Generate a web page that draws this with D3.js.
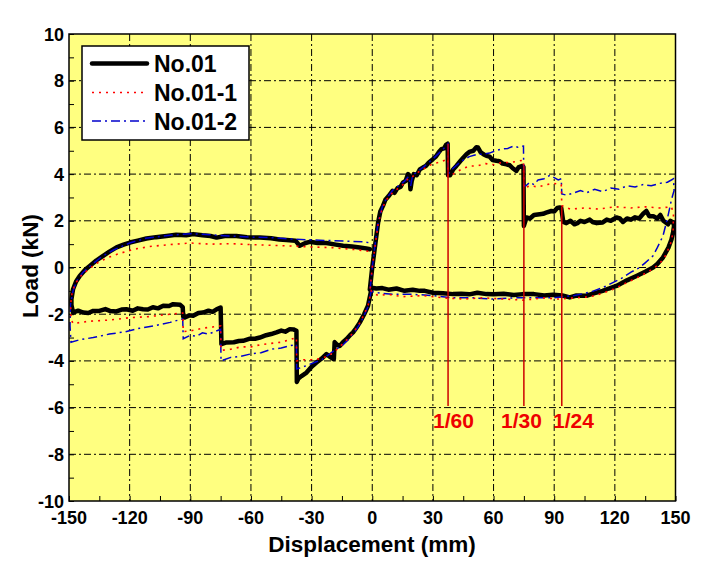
<!DOCTYPE html>
<html><head><meta charset="utf-8">
<script src="https://cdn.jsdelivr.net/npm/d3@7"></script>
<style>
html,body{margin:0;padding:0;background:#fff;}
svg text{font-family:"Liberation Sans",Arial,sans-serif;font-weight:bold;}
</style></head>
<body><svg id="c" width="701" height="561"></svg>
<script>
// ---- data ----
const seriesNames = ["No.01", "No.01-1", "No.01-2"];
const xTicks = [-150,-120,-90,-60,-30,0,30,60,90,120,150];
const yTicks = [-10,-8,-6,-4,-2,0,2,4,6,8,10];
const driftPos = [37.5, 75, 93.75];
const driftLabels = ["1/60", "1/30", "1/24"];
const driftTop = [5.3, 4.35, 2.6];

const no01 = [[-1.2,-0.95],[0,0],[1.5,1.0],[2.9,1.93],[4,2.4],[5.3,2.64],[6.5,2.9],[8,3.05],[10,3.28],[11,3.2],[12.5,3.4],[14,3.45],[15.2,3.64],[16.5,3.7],[17.7,4.0],[18.5,3.9],[18.9,3.35],[19.5,3.7],[20.5,4.0],[22,3.95],[23.5,4.2],[25,4.28],[26.5,4.35],[28,4.5],[30,4.64],[31.5,4.75],[33,4.95],[34.2,5.07],[35.5,5.1],[36.5,5.25],[37.3,5.3],[37.5,3.95],[38.5,3.95],[40,4.2],[41.6,4.35],[43.5,4.55],[45,4.7],[46.6,4.85],[48,4.95],[50,5.0],[51.5,5.15],[52.3,5.14],[53.5,4.95],[55,4.85],[56.5,4.78],[58,4.75],[59.5,4.6],[61.4,4.57],[63,4.55],[64.5,4.45],[66.4,4.42],[68,4.38],[69.5,4.25],[71.3,4.14],[72.5,4.3],[74.3,4.35],[74.8,4.3],[75,1.78],[76.3,2.14],[78,2.1],[80,2.25],[82.8,2.28],[84.5,2.3],[86,2.35],[88.6,2.42],[90,2.4],[91.5,2.55],[92.7,2.57],[93.5,2.55],[93.75,2.4],[94.5,1.95],[96,1.9],[98,2.0],[100,1.85],[101.5,1.9],[103,2.0],[105,1.95],[107.6,2.05],[109,1.95],[111,1.9],[114,1.93],[116,2.05],[118,2.0],[120.8,2.14],[122.5,2.1],[124,1.95],[126,2.1],[128,2.05],[130,2.15],[132,2.1],[134,2.3],[135.6,2.42],[137,2.2],[139,2.2],[141,2.1],[142.5,2.25],[144,2.0],[146.3,1.85],[147.5,2.0],[148.8,1.93],
  [149.3,1.8],[148.8,1.5],[148,1.2],[146.5,0.85],[143.8,0.43],[141,0.15],[138.9,0],[135,-0.18],[130.7,-0.36],[126,-0.55],[120.8,-0.79],[117,-0.9],[114,-1.0],[110,-1.1],[105.9,-1.21],[101,-1.2],[97.7,-1.28],[94,-1.2],[89.4,-1.17],[85,-1.2],[80,-1.14],[74.5,-1.14],[70,-1.18],[65,-1.12],[60,-1.15],[56.5,-1.14],[52,-1.08],[48,-1.15],[44,-1.12],[40,-1.14],[35,-1.1],[30,-1.08],[26,-1.0],[23.5,-1.0],[20,-0.95],[16,-1.0],[12,-0.9],[8,-0.95],[5,-0.88],[2,-0.9],[0.5,-0.88],
  [-0.4,-0.93],[-2.1,-1.64],[-4,-2.0],[-6.2,-2.36],[-8,-2.6],[-9.5,-2.78],[-11,-2.9],[-12.8,-3.07],[-14.5,-3.2],[-16.1,-3.36],[-17.5,-3.3],[-18.6,-3.2],[-19,-3.93],[-20.5,-3.85],[-22.7,-3.71],[-25,-3.9],[-27.6,-4.07],[-30,-4.25],[-32.5,-4.5],[-35,-4.65],[-36.5,-4.75],[-37.3,-4.9],[-37.5,-2.71],[-39,-2.65],[-40.8,-2.64],[-43,-2.75],[-45,-2.7],[-47.4,-2.78],[-50,-2.85],[-52.5,-2.9],[-55.6,-3.0],[-58,-3.05],[-60.5,-3.05],[-63.9,-3.14],[-66,-3.15],[-68.5,-3.2],[-72.1,-3.21],[-74.6,-3.28],[-75,-1.71],[-77,-1.79],[-79,-1.9],[-81,-1.85],[-83.7,-1.93],[-86,-1.95],[-88.6,-2.07],[-90.5,-2.05],[-92.7,-2.14],[-93.5,-2.1],[-93.75,-1.7],[-95,-1.6],[-98.5,-1.57],[-100.5,-1.65],[-103.4,-1.64],[-106,-1.75],[-108.5,-1.7],[-111,-1.8],[-113.4,-1.79],[-116,-1.75],[-118.5,-1.85],[-121.6,-1.79],[-124,-1.8],[-126.5,-1.88],[-129.8,-1.86],[-132,-1.78],[-135,-1.86],[-138,-1.86],[-140.5,-1.95],[-143,-1.93],[-145.5,-1.85],[-148,-1.93],
  [-148.8,-1.6],[-148.8,-1.36],[-148,-0.93],[-146.5,-0.6],[-144.7,-0.36],[-142,-0.1],[-139.7,0.07],[-136.5,0.3],[-133.1,0.5],[-130,0.68],[-126.5,0.86],[-123,0.98],[-119.9,1.07],[-116,1.15],[-111.7,1.24],[-107,1.3],[-101.8,1.35],[-97,1.4],[-92,1.38],[-88.6,1.43],[-84,1.38],[-80,1.35],[-77,1.28],[-73,1.35],[-67.2,1.35],[-62,1.3],[-55.6,1.28],[-50,1.25],[-46,1.2],[-42.4,1.18],[-38,1.15],[-35.9,0.93],[-33,1.05],[-30.9,1.1],[-27,1.05],[-22.7,1.05],[-18,0.98],[-14.4,0.93],[-10,0.9],[-6.2,0.86],[-3,0.82],[-1.2,0.78]];

const no01_1 = [[-1,-0.9],[0,0],[1.5,1.0],[3,1.9],[5,2.55],[7,2.9],[10,3.2],[13,3.4],[16,3.6],[18,3.85],[20,3.9],[23,4.1],[26,4.25],[30,4.45],[33,4.5],[36,4.6],[37.4,4.65],[37.5,3.9],[40,4.0],[44,4.2],[48,4.35],[52,4.35],[56,4.45],[60,4.4],[64,4.5],[68,4.5],[72,4.55],[74.8,4.6],[75,3.4],[78,3.5],[82,3.45],[86,3.55],[90,3.6],[93.5,3.55],[93.75,2.65],[98,2.5],[105,2.55],[112,2.5],[120,2.6],[128,2.55],[135,2.6],[142,2.55],[148,2.6],
  [149,2.3],[148.8,1.5],[147.5,1.0],[145,0.5],[142,0.15],[138,-0.1],[133,-0.35],[127,-0.6],[120,-0.9],[114,-1.1],[108,-1.25],[100,-1.3],[92,-1.35],[85,-1.3],[75,-1.4],[65,-1.35],[55,-1.3],[45,-1.35],[35,-1.3],[25,-1.2],[15,-1.25],[8,-1.15],[3,-1.2],[0.5,-1.1],
  [-0.5,-1.0],[-2,-1.6],[-4,-2.0],[-6,-2.35],[-9,-2.75],[-12,-3.05],[-15,-3.3],[-18,-3.55],[-21,-3.75],[-25,-3.9],[-30,-3.95],[-34,-3.95],[-37.4,-4.0],[-37.5,-3.0],[-41,-3.1],[-45,-3.2],[-50,-3.25],[-55,-3.3],[-60,-3.4],[-65,-3.4],[-70,-3.5],[-74.8,-3.55],[-75,-2.5],[-79,-2.55],[-84,-2.6],[-89,-2.7],[-93.5,-2.75],[-93.75,-1.95],[-100,-2.0],[-110,-2.1],[-120,-2.15],[-130,-2.25],[-140,-2.3],[-148,-2.4],
  [-149,-2.2],[-149.2,-1.6],[-148.5,-1.1],[-147,-0.7],[-144,-0.35],[-140,-0.05],[-135,0.25],[-130,0.45],[-125,0.6],[-118,0.78],[-110,0.9],[-100,0.98],[-90,1.05],[-80,1.0],[-70,1.02],[-60,0.98],[-50,0.95],[-40,0.92],[-30,0.88],[-20,0.85],[-10,0.78],[-4,0.72],[-1,0.68]];

const no01_2 = [[-1,-0.9],[0,0],[1.5,1.05],[3,2.0],[5,2.6],[7,2.95],[10,3.3],[13,3.5],[16,3.7],[18,3.9],[19,3.5],[20,3.95],[23,4.15],[26,4.35],[30,4.65],[33,4.9],[36,5.15],[37.4,5.3],[37.5,4.0],[40,4.25],[44,4.55],[48,4.75],[52,4.85],[55,4.85],[58,4.9],[61,5.0],[64,5.07],[67,5.1],[70,5.2],[72,5.15],[74.8,5.2],[75,3.5],[76,3.5],[78,3.65],[80,3.55],[82,3.75],[85,3.8],[88,3.95],[90,3.85],[92,3.75],[93.5,3.8],[93.75,3.15],[96,3.1],[100,3.2],[103,3.3],[106,3.2],[110,3.35],[114,3.25],[118,3.4],[122,3.35],[126,3.5],[130,3.45],[134,3.55],[138,3.5],[142,3.6],[146,3.65],[149,3.8],
  [149.3,3.3],[148,2.9],[146,2.1],[143.8,1.35],[141,0.85],[138.9,0.5],[135,0.2],[132.3,0],[128,-0.2],[124,-0.43],[119,-0.65],[114,-0.86],[108,-1.05],[100,-1.2],[90,-1.3],[80,-1.3],[70,-1.3],[60,-1.35],[50,-1.3],[40,-1.3],[30,-1.2],[20,-1.15],[10,-1.15],[4,-1.1],[0.5,-1.05],
  [-0.5,-1.0],[-2,-1.65],[-4,-2.05],[-6,-2.4],[-9,-2.8],[-12,-3.1],[-15,-3.35],[-18,-3.5],[-21,-3.7],[-25,-3.95],[-28,-4.05],[-31,-4.15],[-34,-4.25],[-37.4,-4.35],[-37.5,-3.3],[-41,-3.35],[-45,-3.45],[-50,-3.5],[-55,-3.65],[-60,-3.7],[-65,-3.8],[-70,-3.85],[-74.8,-4.0],[-75,-2.65],[-78,-2.75],[-81,-2.85],[-84,-2.8],[-87,-2.95],[-90,-2.9],[-93.5,-3.05],[-93.75,-2.2],[-100,-2.35],[-108,-2.5],[-115,-2.6],[-122,-2.75],[-130,-2.85],[-138,-3.0],[-145,-3.1],[-149,-3.2],
  [-149.5,-2.5],[-149.3,-1.6],[-148,-1.0],[-146,-0.55],[-143,-0.2],[-139,0.1],[-134,0.45],[-128,0.75],[-120,1.05],[-112,1.25],[-100,1.38],[-90,1.45],[-80,1.4],[-70,1.35],[-60,1.3],[-50,1.28],[-40,1.22],[-30,1.18],[-20,1.15],[-10,1.12],[-4,1.1],[-1,1.05]];

// ---- chart ----
const svg = d3.select("#c");
const L = 69, R = 675.5, T = 34, B = 501;
const x = d3.scaleLinear().domain([-150,150]).range([L,R]);
const y = d3.scaleLinear().domain([-10,10]).range([B,T]);

svg.append("rect").attr("width",701).attr("height",561).attr("fill","#fff");
svg.append("rect").attr("x",L).attr("y",T).attr("width",R-L).attr("height",B-T).attr("fill","#ffff80");

svg.append("defs").append("clipPath").attr("id","clip")
  .append("rect").attr("x",L).attr("y",T).attr("width",R-L).attr("height",B-T);

// grid
const grid = svg.append("g");
xTicks.slice(1,-1).forEach(v=>{
  grid.append("line").attr("x1",x(v)).attr("x2",x(v)).attr("y1",T).attr("y2",B)
    .attr("stroke","#000").attr("stroke-width",1).attr("stroke-dasharray","7,3,2,3");
});
yTicks.slice(1,-1).forEach(v=>{
  grid.append("line").attr("x1",L).attr("x2",R).attr("y1",y(v)).attr("y2",y(v))
    .attr("stroke","#000").attr("stroke-width",1).attr("stroke-dasharray","7,3,2,3");
});

// axes with inward minor ticks
const xAxis = d3.axisBottom(x).tickValues(d3.range(-150,151,15)).tickSize(-5).tickFormat("");
const yAxis = d3.axisLeft(y).tickValues(d3.range(-10,11,1)).tickSize(-5).tickFormat("");
svg.append("g").attr("transform",`translate(0,${B})`).call(xAxis).call(g=>g.select(".domain").remove())
  .selectAll("line").attr("stroke","#000");
svg.append("g").attr("transform",`translate(${L},0)`).call(yAxis).call(g=>g.select(".domain").remove())
  .selectAll("line").attr("stroke","#000");

// tick labels
svg.append("g").selectAll("text").data(xTicks).join("text")
  .attr("x",d=>x(d)).attr("y",524).attr("text-anchor","middle")
  .attr("font-size",18).text(d=>d);
svg.append("g").selectAll("text").data(yTicks).join("text")
  .attr("x",64).attr("y",d=>y(d)+6.5).attr("text-anchor","end")
  .attr("font-size",18).text(d=>d);

// axis titles
svg.append("text").attr("x",372).attr("y",552).attr("text-anchor","middle")
  .attr("font-size",22.5).text("Displacement (mm)");
svg.append("text").attr("transform","translate(38,266) rotate(-90)").attr("text-anchor","middle")
  .attr("font-size",22.5).text("Load (kN)");

// series
const line = d3.line().x(d=>x(d[0])).y(d=>y(d[1]));
const plot = svg.append("g").attr("clip-path","url(#clip)");
const styles = [
  {stroke:"#000", w:4.5, dash:null},
  {stroke:"#ff0000", w:1.6, dash:"2,5"},
  {stroke:"#0000cc", w:1.5, dash:"9,4,2,4"}
];
plot.append("path").attr("d",line(no01)).attr("fill","none").attr("stroke","#000")
  .attr("stroke-width",4.5).attr("stroke-linejoin","round").attr("stroke-linecap","round");
plot.append("path").attr("d",line(no01_2)).attr("fill","none").attr("stroke","#0000cc")
  .attr("stroke-width",1.5).attr("stroke-dasharray","9,4,2,4");
plot.append("path").attr("d",line(no01_1)).attr("fill","none").attr("stroke","#ff0000")
  .attr("stroke-width",1.6).attr("stroke-dasharray","2,5");

// drift markers
driftPos.forEach((d,i)=>{
  svg.append("line").attr("x1",x(d)).attr("x2",x(d)).attr("y1",y(driftTop[i])).attr("y2",y(-5.93))
    .attr("stroke","#cc0000").attr("stroke-width",1.5);
});
const labX = [433, 501, 553];
driftLabels.forEach((t,i)=>{
  svg.append("text").attr("x",labX[i]).attr("y",428).attr("fill","#ee0000")
    .attr("font-size",21).text(t);
});

// border
svg.append("rect").attr("x",L).attr("y",T).attr("width",R-L).attr("height",B-T)
  .attr("fill","none").attr("stroke","#000").attr("stroke-width",1.5);

// legend
const lg = svg.append("g");
lg.append("rect").attr("x",82).attr("y",46).attr("width",167).attr("height",94)
  .attr("fill","#fff").attr("stroke","#000").attr("stroke-width",1.5);
const ly = [63.5, 92.5, 121];
styles.forEach((s,i)=>{
  lg.append("line").attr("x1",92).attr("x2",147).attr("y1",ly[i]).attr("y2",ly[i])
    .attr("stroke",s.stroke).attr("stroke-width",s.w).attr("stroke-dasharray",s.dash)
    .attr("stroke-linecap", i===0?"round":"butt");
  lg.append("text").attr("x",154).attr("y",ly[i]+8.5).attr("font-size",23).text(seriesNames[i]);
});
</script></body></html>
